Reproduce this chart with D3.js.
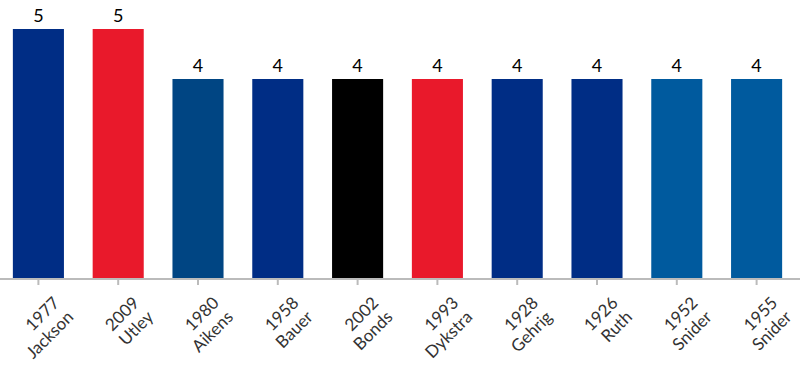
<!DOCTYPE html>
<html lang="en">
<head>
    <meta charset="UTF-8">
    <script src="https://d3js.org/d3.v7.min.js"></script>
    <style>
        body {
            margin: 0;
            background: #fff;
        }
        .value, .tick-label {
            font-family: Lato, "Open Sans", sans-serif;
        }
        .value {
            font-size: 18px;
            fill: #000;
        }
        .tick-label {
            font-size: 17px;
            fill: #333;
        }
    </style>
</head>
<body>
    <div id="chart"></div>

    <script>
        // categories: year + player, value, team colour
        const years = ["1977", "2009", "1980", "1958", "2002", "1993", "1928", "1926", "1952", "1955"];
        const players = ["Jackson", "Utley", "Aikens", "Bauer", "Bonds", "Dykstra", "Gehrig", "Ruth", "Snider", "Snider"];
        const homeRuns = [5, 5, 4, 4, 4, 4, 4, 4, 4, 4];
        const colors = ["#002d85", "#e9192b", "#004583", "#002d85", "#000000", "#e9192b", "#002d85", "#002d85", "#005a9e", "#005a9e"];

        const width = 800, height = 369;
        const baseline = 279;

        const data = years.map((y, i) => ({
            key: y + " " + players[i],
            year: y,
            player: players[i],
            value: homeRuns[i],
            color: colors[i]
        }));

        const svg = d3.select("#chart")
            .append("svg")
            .attr("width", width)
            .attr("height", height);

        const x = d3.scaleBand()
            .domain(data.map(d => d.key))
            .range([-1.5, 796.5])
            .paddingInner(0.36)
            .paddingOuter(0.18);

        const y = d3.scaleLinear()
            .domain([0, 5])
            .range([baseline, 29]);

        svg.selectAll(".bar")
            .data(data)
            .enter()
            .append("rect")
            .attr("class", "bar")
            .attr("x", d => x(d.key))
            .attr("y", d => y(d.value))
            .attr("width", x.bandwidth())
            .attr("height", d => baseline - y(d.value))
            .attr("fill", d => d.color);

        svg.selectAll(".value")
            .data(data)
            .enter()
            .append("text")
            .attr("class", "value")
            .attr("x", d => x(d.key) + x.bandwidth() / 2)
            .attr("y", d => y(d.value) - 7)
            .attr("text-anchor", "middle")
            .text(d => d.value);

        // x axis
        const axis = svg.append("g")
            .attr("transform", `translate(0,${baseline})`)
            .call(d3.axisBottom(x).tickSize(6).tickFormat(""));
        axis.select(".domain").remove();
        axis.selectAll(".tick line").attr("stroke", "#bbb").attr("stroke-width", 2);
        axis.append("line")
            .attr("x1", 0).attr("x2", width)
            .attr("stroke", "#bbb").attr("stroke-width", 2);

        const labels = axis.selectAll(".tick")
            .append("text")
            .attr("class", "tick-label")
            .attr("transform", "translate(22,25) rotate(-45)")
            .attr("text-anchor", "end");
        labels.append("tspan")
            .attr("x", 0)
            .text(d => data.find(e => e.key === d).year);
        labels.append("tspan")
            .attr("x", 0)
            .attr("dy", 20)
            .text(d => data.find(e => e.key === d).player);
    </script>
</body>
</html>
